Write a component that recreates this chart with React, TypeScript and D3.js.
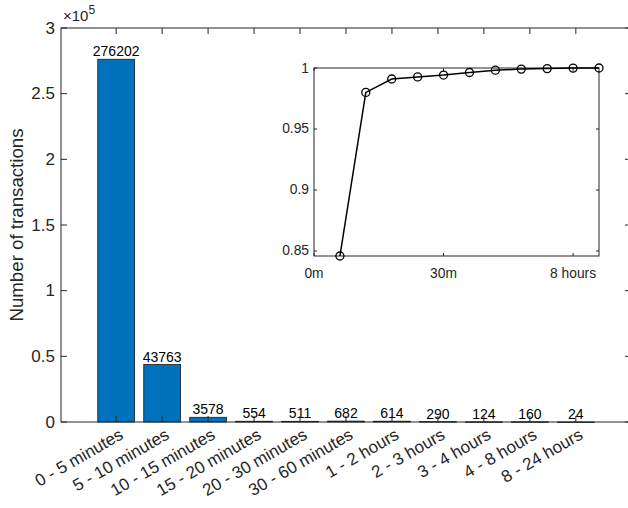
import React from "react";
import * as d3 from "d3";

// bins of the transaction duration histogram
const categories = [
  "0 - 5 minutes",
  "5 - 10 minutes",
  "10 - 15 minutes",
  "15 - 20 minutes",
  "20 - 30 minutes",
  "30 - 60 minutes",
  "1 - 2 hours",
  "2 - 3 hours",
  "3 - 4 hours",
  "4 - 8 hours",
  "8 - 24 hours",
];
const counts = [276202, 43763, 3578, 554, 511, 682, 614, 290, 124, 160, 24];
const yTicks = [0, 0.5, 1, 1.5, 2, 2.5, 3];

// inset: cumulative share
const cumShare = [0.8459, 0.98, 0.991, 0.9927, 0.9942, 0.9963, 0.9982, 0.9991, 0.9995, 0.9999, 1.0];
const insetYTicks = [0.85, 0.9, 0.95, 1];
const insetXTicks = [0, 5, 10];
const insetXLabels = ["0m", "30m", "8 hours"];

const W = 628;
const H = 508;
const FONT = "'Liberation Sans', Arial, Helvetica, sans-serif";
const AX = "#262626";

export default function App() {
  // main axes
  const m = { left: 61, right: 631, top: 28, bottom: 422 };
  const x = d3.scaleLinear().domain([-0.2, 12.2]).range([m.left, m.right]);
  const y = d3.scaleLinear().domain([0, 3e5]).range([m.bottom, m.top]);
  const barW = x(0.8) - x(0);

  // inset axes
  const ins = { left: 314, right: 599, top: 68, bottom: 256 };
  const ix = d3.scaleLinear().domain([0, 11]).range([ins.left, ins.right]);
  const iy = d3.scaleLinear().domain([d3.min(cumShare)!, 1]).range([ins.bottom, ins.top]);
  const line = d3
    .line<number>()
    .x((d, i) => ix(i + 1))
    .y((d) => iy(d));

  const tk = 6;

  return (
    <svg
      width={W}
      height={H}
      style={{ position: "absolute", left: 0, top: 0, background: "#fff" }}
      fontFamily={FONT}
    >
      {/* bars */}
      {counts.map((c, i) => (
        <rect
          key={"b" + i}
          x={x(i + 1) - barW / 2}
          y={y(c)}
          width={barW}
          height={Math.max(y(0) - y(c), 0.5)}
          fill="#0072BD"
          stroke="#1a1a1a"
          strokeWidth={0.8}
        />
      ))}
      {counts.map((c, i) => (
        <text
          key={"l" + i}
          x={x(i + 1)}
          y={y(c) - 3}
          fontSize={14}
          textAnchor="middle"
          fill="#000"
        >
          {c}
        </text>
      ))}

      {/* box */}
      <rect
        x={m.left}
        y={m.top}
        width={m.right - m.left}
        height={m.bottom - m.top}
        fill="none"
        stroke={AX}
        strokeWidth={1}
      />
      {/* x ticks */}
      {categories.map((c, i) => (
        <g key={"xt" + i}>
          <line x1={x(i + 1)} x2={x(i + 1)} y1={m.bottom} y2={m.bottom - tk} stroke={AX} />
          <line x1={x(i + 1)} x2={x(i + 1)} y1={m.top} y2={m.top + tk} stroke={AX} />
          <text
            transform={`translate(${x(i + 1) + 6},${m.bottom + 12}) rotate(-30)`}
            textAnchor="end"
            dominantBaseline="middle"
            fontSize={17}
            fill={AX}
          >
            {c}
          </text>
        </g>
      ))}
      {/* y ticks */}
      {yTicks.map((t) => (
        <g key={"yt" + t}>
          <line x1={m.left} x2={m.left + tk} y1={y(t * 1e5)} y2={y(t * 1e5)} stroke={AX} />
          <line x1={m.right} x2={m.right - tk} y1={y(t * 1e5)} y2={y(t * 1e5)} stroke={AX} />
          <text
            x={m.left - 6}
            y={y(t * 1e5)}
            textAnchor="end"
            dominantBaseline="central"
            fontSize={17}
            fill={AX}
          >
            {t}
          </text>
        </g>
      ))}
      <text x={m.left + 2} y={m.top - 7} fontSize={15} fill={AX}>
        ×10
        <tspan fontSize={12} dy={-7}>
          5
        </tspan>
      </text>
      <text
        transform={`translate(23,${(m.top + m.bottom) / 2}) rotate(-90)`}
        textAnchor="middle"
        fontSize={18.7}
        fill={AX}
      >
        Number of transactions
      </text>

      {/* inset */}
      <rect
        x={ins.left}
        y={ins.top}
        width={ins.right - ins.left}
        height={ins.bottom - ins.top}
        fill="#fff"
        stroke={AX}
        strokeWidth={1}
      />
      {insetYTicks.map((t) => (
        <g key={"iy" + t}>
          <line x1={ins.left} x2={ins.left + 3} y1={iy(t)} y2={iy(t)} stroke={AX} />
          <line x1={ins.right} x2={ins.right - 3} y1={iy(t)} y2={iy(t)} stroke={AX} />
          <text
            x={ins.left - 5}
            y={iy(t)}
            textAnchor="end"
            dominantBaseline="central"
            fontSize={13.8}
            fill={AX}
          >
            {t}
          </text>
        </g>
      ))}
      {insetXTicks.map((t, i) => (
        <g key={"ix" + t}>
          <line x1={ix(t)} x2={ix(t)} y1={ins.bottom} y2={ins.bottom - 3} stroke={AX} />
          <line x1={ix(t)} x2={ix(t)} y1={ins.top} y2={ins.top + 3} stroke={AX} />
          <text
            x={ix(t)}
            y={ins.bottom + 17}
            textAnchor="middle"
            dominantBaseline="central"
            fontSize={13.8}
            fill={AX}
          >
            {insetXLabels[i]}
          </text>
        </g>
      ))}
      <path d={line(cumShare) || ""} fill="none" stroke="#000" strokeWidth={1.5} />
      {cumShare.map((v, i) => (
        <circle
          key={"c" + i}
          cx={ix(i + 1)}
          cy={iy(v)}
          r={4}
          fill="none"
          stroke="#000"
          strokeWidth={1.3}
        />
      ))}
    </svg>
  );
}
